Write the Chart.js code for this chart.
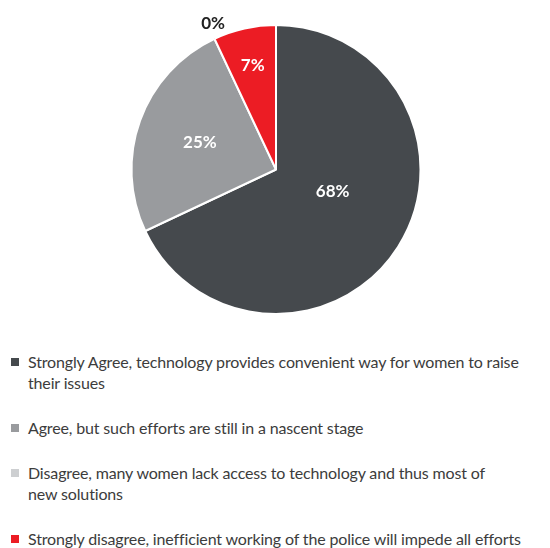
<!DOCTYPE html>
<html>
<head>
<meta charset="utf-8">
<script src="https://cdn.jsdelivr.net/npm/chart.js@4.4.0/dist/chart.umd.min.js"></script>
<style>
  body { margin: 0; background: #fff; width: 550px; height: 548px; overflow: hidden; font-family: Lato, "Open Sans", sans-serif; }
  #wrap { position: relative; width: 550px; height: 340px; }
  #legend { list-style: none; margin: 0; padding: 0; position: absolute; left: 0; top: 351px; width: 550px; }
  #legend li { position: relative; padding-left: 28px; font-size: 16px; letter-spacing: -0.15px; line-height: 21px; color: #3c3c3c; margin-bottom: 24px; }
  #legend li span { position: absolute; left: 11px; top: 7px; width: 8px; height: 8px; }
</style>
</head>
<body>
<div id="wrap"><canvas id="pie"></canvas></div>
<ul id="legend"></ul>
<script>
// Survey answers
const answers = [
    'Strongly Agree, technology provides convenient way for women to raise their issues',
    'Agree, but such efforts are still in a nascent stage',
    'Disagree, many women lack access to technology and thus most of new solutions',
    'Strongly disagree, inefficient working of the police will impede all efforts'
];
const shares = [68, 25, 0, 7];
const sliceColors = ['#45494d', '#999b9e', '#cdcfd1', '#ec1c24'];

// where each percentage sits, as a fraction of the radius
const labelRadius = [0.42, 0.56, 1.12, 0.74];
const labelColors = ['#ffffff', '#ffffff', '#222222', '#ffffff'];
// text box width of each legend entry, so the lines break where the original does
const legendTextWidth = [495, 495, 470, 520];

// draws the % labels on the slices
const pieLabels = {
    id: 'pieLabels',
    afterDatasetsDraw(chart) {
        const ctx = chart.ctx;
        const arcs = chart.getDatasetMeta(0).data;
        ctx.save();
        ctx.font = 'bold 17px Lato, "Open Sans", sans-serif';
        ctx.textAlign = 'center';
        ctx.textBaseline = 'middle';
        arcs.forEach((arc, i) => {
            // big slice label sits a bit higher than its middle angle
            const mid = (arc.startAngle + arc.endAngle) / 2 - (i === 0 ? 0.2 : 0);
            const r = arc.outerRadius * labelRadius[i];
            let x = arc.x + Math.cos(mid) * r;
            // the 0% label leans a little toward the red slice
            if (shares[i] === 0) x += 6;
            ctx.fillStyle = labelColors[i];
            ctx.fillText(shares[i] + '%', x, arc.y + Math.sin(mid) * r);
        });
        ctx.restore();
    }
};

new Chart(document.getElementById('pie'), {
    type: 'pie',
    data: {
        labels: answers,
        datasets: [{
            data: shares,
            backgroundColor: sliceColors,
            borderColor: '#ffffff',
            borderWidth: 2
        }]
    },
    options: {
        responsive: true,
        maintainAspectRatio: false,
        animation: false,
        layout: { padding: { top: 24, bottom: 25, left: 2 } },
        plugins: {
            legend: { display: false },
            tooltip: { enabled: false }
        }
    },
    plugins: [pieLabels]
});

// legend below the pie
const legend = document.getElementById('legend');
answers.forEach((text, i) => {
    const li = document.createElement('li');
    li.style.width = legendTextWidth[i] + 'px';
    const box = document.createElement('span');
    box.style.background = sliceColors[i];
    li.appendChild(box);
    li.appendChild(document.createTextNode(text));
    legend.appendChild(li);
});
</script>
</body>
</html>
